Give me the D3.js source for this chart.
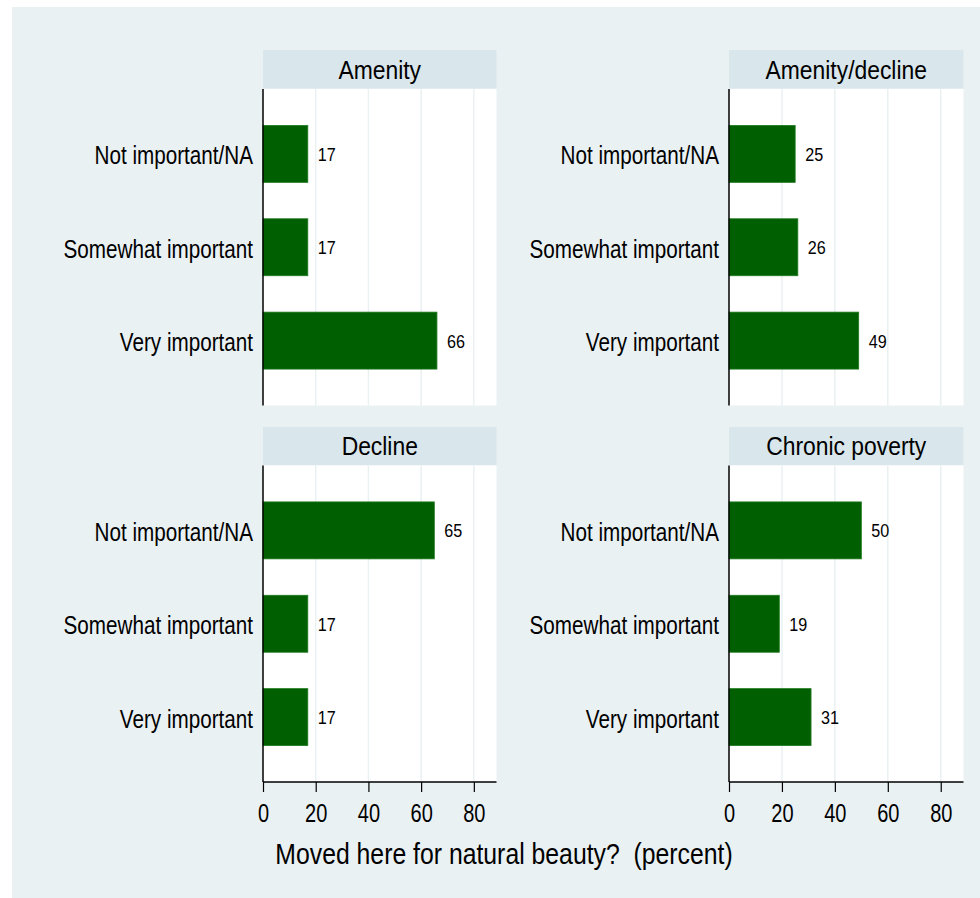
<!DOCTYPE html>
<html>
<head>
<meta charset="utf-8">
<script src="https://cdn.jsdelivr.net/npm/d3@7"></script>
<style>
  html, body { margin: 0; padding: 0; background: #fff; }
  text { font-family: "Liberation Sans", Arial, sans-serif; fill: #000; white-space: pre; }
</style>
</head>
<body>
<svg width="980" height="898"></svg>
<script>
// data
const panelNames = ["Amenity", "Amenity/decline", "Decline", "Chronic poverty"];
const categories = ["Not important/NA", "Somewhat important", "Very important"];
const amenity = [17, 17, 66];
const amenityDecline = [25, 26, 49];
const decline = [65, 17, 17];
const chronicPoverty = [50, 19, 31];
const xTicks = [0, 20, 40, 60, 80];
const xTitle = "Moved here for natural beauty?  (percent)";

const panelValues = [amenity, amenityDecline, decline, chronicPoverty];

var svg = d3.select("svg");

// the original uses a narrow face, so squeeze text sideways
function narrowText(sel, x, y, sx) {
    return sel.attr("transform", "translate(" + x + "," + y + ") scale(" + sx + ",1)");
}

// graph region background
svg.append("rect")
    .attr("x", 12).attr("y", 7)
    .attr("width", 968).attr("height", 891)
    .attr("fill", "#eaf1f3");

// panel positions (2 x 2)
const cols = [{x0: 263, x1: 496.5}, {x0: 729, x1: 963.5}];
const rows = [{hy: 50, y0: 89, y1: 405.5}, {hy: 427, y0: 465.5, y1: 782}];

panelNames.forEach(function (name, i) {
    var col = cols[i % 2], row = rows[Math.floor(i / 2)];
    var values = panelValues[i];
    var isBottom = Math.floor(i / 2) === 1;

    var x = d3.scaleLinear().domain([0, 88.6]).range([col.x0, col.x1]);
    var y = d3.scaleBand().domain(categories).range([row.y0, row.y1])
        .paddingInner(0.39).paddingOuter(0.39);

    var g = svg.append("g").attr("class", "panel");

    // header strip
    g.append("rect")
        .attr("x", col.x0).attr("y", row.hy)
        .attr("width", col.x1 - col.x0).attr("height", row.y0 - row.hy - 0.5)
        .attr("fill", "#d9e6eb");
    g.append("text")
        .call(narrowText, (col.x0 + col.x1) / 2, (row.hy + row.y0) / 2 + 9, 0.88)
        .attr("text-anchor", "middle")
        .style("font-size", "26px")
        .text(name);

    // plot area
    g.append("rect")
        .attr("x", col.x0).attr("y", row.y0)
        .attr("width", col.x1 - col.x0).attr("height", row.y1 - row.y0)
        .attr("fill", "#fff");

    // grid
    g.selectAll("line.grid")
        .data(xTicks.slice(1))
        .enter().append("line")
        .attr("class", "grid")
        .attr("x1", d => x(d)).attr("x2", d => x(d))
        .attr("y1", row.y0).attr("y2", row.y1)
        .attr("stroke", "#eaf1f3").attr("stroke-width", 1.5);

    // bars
    g.selectAll("rect.bar")
        .data(values)
        .enter().append("rect")
        .attr("class", "bar")
        .attr("x", x(0))
        .attr("y", (d, j) => y(categories[j]))
        .attr("width", d => x(d) - x(0))
        .attr("height", y.bandwidth())
        .attr("fill", "#005f00")
        .attr("stroke", "#1f7a1f").attr("stroke-width", 0.8);

    // value labels
    g.selectAll("text.val")
        .data(values)
        .enter().append("text")
        .attr("class", "val")
        .each(function (d, j) {
            d3.select(this).call(narrowText, x(d) + 10, y(categories[j]) + y.bandwidth() / 2 + 7, 0.85);
        })
        .style("font-size", "19px")
        .text(d => d);

    // category labels
    g.selectAll("text.cat")
        .data(categories)
        .enter().append("text")
        .attr("class", "cat")
        .each(function (d) {
            d3.select(this).call(narrowText, col.x0 - 10, y(d) + y.bandwidth() / 2 + 10.5, 0.78);
        })
        .attr("text-anchor", "end")
        .style("font-size", "26.5px")
        .text(d => d);

    // y axis line
    g.append("line")
        .attr("x1", col.x0).attr("x2", col.x0)
        .attr("y1", row.y0).attr("y2", row.y1)
        .attr("stroke", "#000").attr("stroke-width", 1.5);

    if (isBottom) {
        var axis = d3.axisBottom(x).tickValues(xTicks).tickSize(10).tickPadding(12);
        var ax = g.append("g")
            .attr("transform", "translate(0," + row.y1 + ")")
            .call(axis);
        ax.select(".domain").attr("stroke", "#000").attr("stroke-width", 1.5)
            .attr("d", "M" + col.x0 + ",0H" + col.x1);
        ax.selectAll(".tick line").attr("stroke", "#000").attr("stroke-width", 1.2);
        ax.selectAll(".tick text")
            .attr("transform", "scale(0.8,1)")
            .style("font-size", "25px")
            .attr("font-family", null);
    }
});

svg.append("text")
    .call(narrowText, 504, 864, 0.855)
    .attr("text-anchor", "middle")
    .style("font-size", "29px")
    .text(xTitle);
</script>
</body>
</html>
